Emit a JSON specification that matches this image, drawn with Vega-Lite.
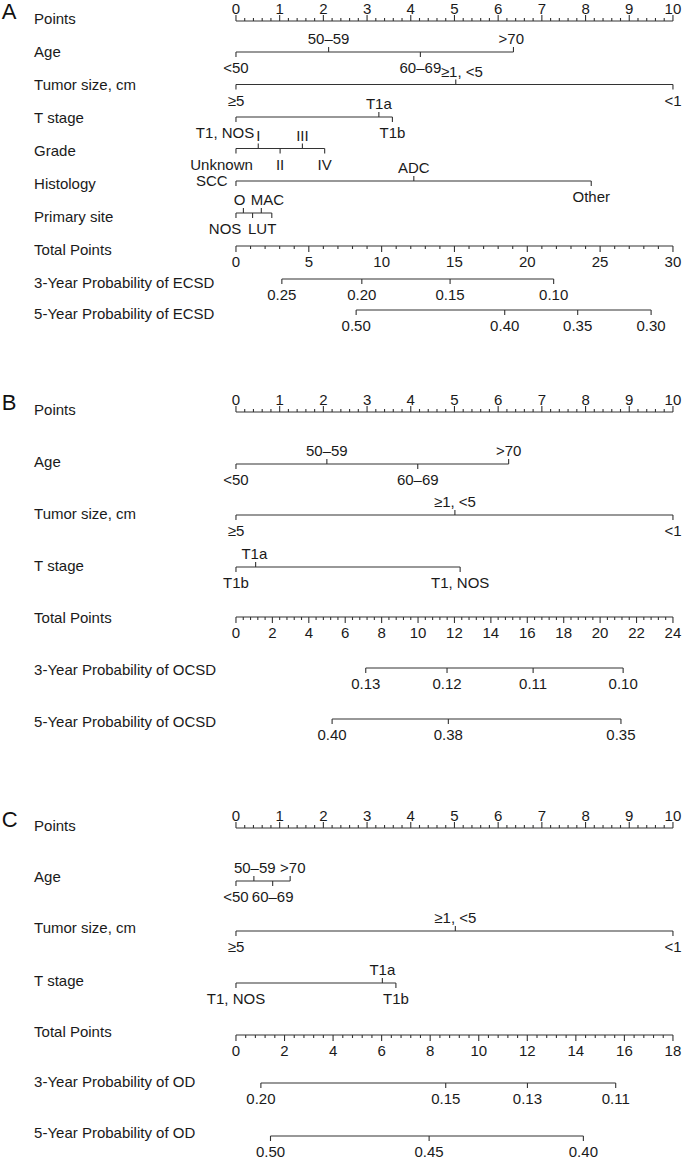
{
  "$schema": "https://vega.github.io/schema/vega-lite/v6.json",
  "width": 683,
  "height": 1163,
  "autosize": "none",
  "padding": 0,
  "background": "white",
  "config": {"view": {"stroke": null}, "text": {"font": "Liberation Sans"}},
  "datasets": {
    "rowlab": [
      {"t": "Points", "x": -4.62, "y": 19}, {"t": "Age", "x": -4.62, "y": 52}, {"t": "Tumor size, cm", "x": -4.62, "y": 85}, {"t": "T stage", "x": -4.62, "y": 118},
      {"t": "Grade", "x": -4.62, "y": 151}, {"t": "Histology", "x": -4.62, "y": 184}, {"t": "Primary site", "x": -4.62, "y": 217}, {"t": "Total Points", "x": -4.62, "y": 250},
      {"t": "3-Year Probability of ECSD", "x": -4.62, "y": 283}, {"t": "5-Year Probability of ECSD", "x": -4.62, "y": 314},
      {"t": "Points", "x": -4.62, "y": 410}, {"t": "Age", "x": -4.62, "y": 462}, {"t": "Tumor size, cm", "x": -4.62, "y": 514}, {"t": "T stage", "x": -4.62, "y": 566},
      {"t": "Total Points", "x": -4.62, "y": 618}, {"t": "3-Year Probability of OCSD", "x": -4.62, "y": 670}, {"t": "5-Year Probability of OCSD", "x": -4.62, "y": 722},
      {"t": "Points", "x": -4.62, "y": 826}, {"t": "Age", "x": -4.62, "y": 877}, {"t": "Tumor size, cm", "x": -4.62, "y": 928}, {"t": "T stage", "x": -4.62, "y": 981},
      {"t": "Total Points", "x": -4.62, "y": 1032}, {"t": "3-Year Probability of OD", "x": -4.62, "y": 1082}, {"t": "5-Year Probability of OD", "x": -4.62, "y": 1133}
    ],
    "letters": [{"t": "A", "x": -5.36, "y": 12}, {"t": "B", "x": -5.36, "y": 403}, {"t": "C", "x": -5.36, "y": 820}],
    "lines": [
      {"x": 0, "x2": 10, "y": 21}, {"x": 0, "x2": 6.35, "y": 52}, {"x": 0, "x2": 10, "y": 84.5}, {"x": 0, "x2": 3.58, "y": 117},
      {"x": 0, "x2": 2.03, "y": 148.5}, {"x": 0, "x2": 8.13, "y": 181}, {"x": 0, "x2": 0.82, "y": 213}, {"x": 0, "x2": 10, "y": 246},
      {"x": 1.05, "x2": 7.27, "y": 279}, {"x": 2.75, "x2": 9.5, "y": 310},
      {"x": 0, "x2": 10, "y": 412}, {"x": 0, "x2": 6.24, "y": 464}, {"x": 0, "x2": 10, "y": 515}, {"x": 0, "x2": 5.13, "y": 567},
      {"x": 0, "x2": 10, "y": 617}, {"x": 2.97, "x2": 8.86, "y": 668}, {"x": 2.2, "x2": 8.81, "y": 719},
      {"x": 0, "x2": 10, "y": 828}, {"x": 0, "x2": 1.24, "y": 881}, {"x": 0, "x2": 10, "y": 931}, {"x": 0, "x2": 3.66, "y": 983},
      {"x": 0, "x2": 10, "y": 1035}, {"x": 0.57, "x2": 8.69, "y": 1083}, {"x": 0.79, "x2": 7.95, "y": 1136}
    ],
    "ticks": [
      {"x":0,"y":21,"k":"uM"},{"x":0.2,"y":21,"k":"um"},{"x":0.4,"y":21,"k":"um"},{"x":0.6,"y":21,"k":"um"},{"x":0.8,"y":21,"k":"um"},
      {"x":1,"y":21,"k":"uM"},{"x":1.2,"y":21,"k":"um"},{"x":1.4,"y":21,"k":"um"},{"x":1.6,"y":21,"k":"um"},{"x":1.8,"y":21,"k":"um"},
      {"x":2,"y":21,"k":"uM"},{"x":2.2,"y":21,"k":"um"},{"x":2.4,"y":21,"k":"um"},{"x":2.6,"y":21,"k":"um"},{"x":2.8,"y":21,"k":"um"},
      {"x":3,"y":21,"k":"uM"},{"x":3.2,"y":21,"k":"um"},{"x":3.4,"y":21,"k":"um"},{"x":3.6,"y":21,"k":"um"},{"x":3.8,"y":21,"k":"um"},
      {"x":4,"y":21,"k":"uM"},{"x":4.2,"y":21,"k":"um"},{"x":4.4,"y":21,"k":"um"},{"x":4.6,"y":21,"k":"um"},{"x":4.8,"y":21,"k":"um"},
      {"x":5,"y":21,"k":"uM"},{"x":5.2,"y":21,"k":"um"},{"x":5.4,"y":21,"k":"um"},{"x":5.6,"y":21,"k":"um"},{"x":5.8,"y":21,"k":"um"},
      {"x":6,"y":21,"k":"uM"},{"x":6.2,"y":21,"k":"um"},{"x":6.4,"y":21,"k":"um"},{"x":6.6,"y":21,"k":"um"},{"x":6.8,"y":21,"k":"um"},
      {"x":7,"y":21,"k":"uM"},{"x":7.2,"y":21,"k":"um"},{"x":7.4,"y":21,"k":"um"},{"x":7.6,"y":21,"k":"um"},{"x":7.8,"y":21,"k":"um"},
      {"x":8,"y":21,"k":"uM"},{"x":8.2,"y":21,"k":"um"},{"x":8.4,"y":21,"k":"um"},{"x":8.6,"y":21,"k":"um"},{"x":8.8,"y":21,"k":"um"},
      {"x":9,"y":21,"k":"uM"},{"x":9.2,"y":21,"k":"um"},{"x":9.4,"y":21,"k":"um"},{"x":9.6,"y":21,"k":"um"},{"x":9.8,"y":21,"k":"um"},
      {"x":10,"y":21,"k":"uM"},

      {"x":0,"y":412,"k":"uM"},{"x":0.2,"y":412,"k":"um"},{"x":0.4,"y":412,"k":"um"},{"x":0.6,"y":412,"k":"um"},{"x":0.8,"y":412,"k":"um"},
      {"x":1,"y":412,"k":"uM"},{"x":1.2,"y":412,"k":"um"},{"x":1.4,"y":412,"k":"um"},{"x":1.6,"y":412,"k":"um"},{"x":1.8,"y":412,"k":"um"},
      {"x":2,"y":412,"k":"uM"},{"x":2.2,"y":412,"k":"um"},{"x":2.4,"y":412,"k":"um"},{"x":2.6,"y":412,"k":"um"},{"x":2.8,"y":412,"k":"um"},
      {"x":3,"y":412,"k":"uM"},{"x":3.2,"y":412,"k":"um"},{"x":3.4,"y":412,"k":"um"},{"x":3.6,"y":412,"k":"um"},{"x":3.8,"y":412,"k":"um"},
      {"x":4,"y":412,"k":"uM"},{"x":4.2,"y":412,"k":"um"},{"x":4.4,"y":412,"k":"um"},{"x":4.6,"y":412,"k":"um"},{"x":4.8,"y":412,"k":"um"},
      {"x":5,"y":412,"k":"uM"},{"x":5.2,"y":412,"k":"um"},{"x":5.4,"y":412,"k":"um"},{"x":5.6,"y":412,"k":"um"},{"x":5.8,"y":412,"k":"um"},
      {"x":6,"y":412,"k":"uM"},{"x":6.2,"y":412,"k":"um"},{"x":6.4,"y":412,"k":"um"},{"x":6.6,"y":412,"k":"um"},{"x":6.8,"y":412,"k":"um"},
      {"x":7,"y":412,"k":"uM"},{"x":7.2,"y":412,"k":"um"},{"x":7.4,"y":412,"k":"um"},{"x":7.6,"y":412,"k":"um"},{"x":7.8,"y":412,"k":"um"},
      {"x":8,"y":412,"k":"uM"},{"x":8.2,"y":412,"k":"um"},{"x":8.4,"y":412,"k":"um"},{"x":8.6,"y":412,"k":"um"},{"x":8.8,"y":412,"k":"um"},
      {"x":9,"y":412,"k":"uM"},{"x":9.2,"y":412,"k":"um"},{"x":9.4,"y":412,"k":"um"},{"x":9.6,"y":412,"k":"um"},{"x":9.8,"y":412,"k":"um"},
      {"x":10,"y":412,"k":"uM"},

      {"x":0,"y":828,"k":"uM"},{"x":0.2,"y":828,"k":"um"},{"x":0.4,"y":828,"k":"um"},{"x":0.6,"y":828,"k":"um"},{"x":0.8,"y":828,"k":"um"},
      {"x":1,"y":828,"k":"uM"},{"x":1.2,"y":828,"k":"um"},{"x":1.4,"y":828,"k":"um"},{"x":1.6,"y":828,"k":"um"},{"x":1.8,"y":828,"k":"um"},
      {"x":2,"y":828,"k":"uM"},{"x":2.2,"y":828,"k":"um"},{"x":2.4,"y":828,"k":"um"},{"x":2.6,"y":828,"k":"um"},{"x":2.8,"y":828,"k":"um"},
      {"x":3,"y":828,"k":"uM"},{"x":3.2,"y":828,"k":"um"},{"x":3.4,"y":828,"k":"um"},{"x":3.6,"y":828,"k":"um"},{"x":3.8,"y":828,"k":"um"},
      {"x":4,"y":828,"k":"uM"},{"x":4.2,"y":828,"k":"um"},{"x":4.4,"y":828,"k":"um"},{"x":4.6,"y":828,"k":"um"},{"x":4.8,"y":828,"k":"um"},
      {"x":5,"y":828,"k":"uM"},{"x":5.2,"y":828,"k":"um"},{"x":5.4,"y":828,"k":"um"},{"x":5.6,"y":828,"k":"um"},{"x":5.8,"y":828,"k":"um"},
      {"x":6,"y":828,"k":"uM"},{"x":6.2,"y":828,"k":"um"},{"x":6.4,"y":828,"k":"um"},{"x":6.6,"y":828,"k":"um"},{"x":6.8,"y":828,"k":"um"},
      {"x":7,"y":828,"k":"uM"},{"x":7.2,"y":828,"k":"um"},{"x":7.4,"y":828,"k":"um"},{"x":7.6,"y":828,"k":"um"},{"x":7.8,"y":828,"k":"um"},
      {"x":8,"y":828,"k":"uM"},{"x":8.2,"y":828,"k":"um"},{"x":8.4,"y":828,"k":"um"},{"x":8.6,"y":828,"k":"um"},{"x":8.8,"y":828,"k":"um"},
      {"x":9,"y":828,"k":"uM"},{"x":9.2,"y":828,"k":"um"},{"x":9.4,"y":828,"k":"um"},{"x":9.6,"y":828,"k":"um"},{"x":9.8,"y":828,"k":"um"},
      {"x":10,"y":828,"k":"uM"},

      {"x":0,"y":246,"k":"dM"},{"x":0.3333,"y":246,"k":"dm"},{"x":0.6667,"y":246,"k":"dm"},{"x":1,"y":246,"k":"dm"},{"x":1.3333,"y":246,"k":"dm"},
      {"x":1.6667,"y":246,"k":"dM"},{"x":2,"y":246,"k":"dm"},{"x":2.3333,"y":246,"k":"dm"},{"x":2.6667,"y":246,"k":"dm"},{"x":3,"y":246,"k":"dm"},
      {"x":3.3333,"y":246,"k":"dM"},{"x":3.6667,"y":246,"k":"dm"},{"x":4,"y":246,"k":"dm"},{"x":4.3333,"y":246,"k":"dm"},{"x":4.6667,"y":246,"k":"dm"},
      {"x":5,"y":246,"k":"dM"},{"x":5.3333,"y":246,"k":"dm"},{"x":5.6667,"y":246,"k":"dm"},{"x":6,"y":246,"k":"dm"},{"x":6.3333,"y":246,"k":"dm"},
      {"x":6.6667,"y":246,"k":"dM"},{"x":7,"y":246,"k":"dm"},{"x":7.3333,"y":246,"k":"dm"},{"x":7.6667,"y":246,"k":"dm"},{"x":8,"y":246,"k":"dm"},
      {"x":8.3333,"y":246,"k":"dM"},{"x":8.6667,"y":246,"k":"dm"},{"x":9,"y":246,"k":"dm"},{"x":9.3333,"y":246,"k":"dm"},{"x":9.6667,"y":246,"k":"dm"},
      {"x":10,"y":246,"k":"dM"},

      {"x":0,"y":617,"k":"dM"},{"x":0.1667,"y":617,"k":"dm"},{"x":0.3333,"y":617,"k":"dm"},{"x":0.5,"y":617,"k":"dm"},{"x":0.6667,"y":617,"k":"dm"},
      {"x":0.8333,"y":617,"k":"dM"},{"x":1,"y":617,"k":"dm"},{"x":1.1667,"y":617,"k":"dm"},{"x":1.3333,"y":617,"k":"dm"},{"x":1.5,"y":617,"k":"dm"},
      {"x":1.6667,"y":617,"k":"dM"},{"x":1.8333,"y":617,"k":"dm"},{"x":2,"y":617,"k":"dm"},{"x":2.1667,"y":617,"k":"dm"},{"x":2.3333,"y":617,"k":"dm"},
      {"x":2.5,"y":617,"k":"dM"},{"x":2.6667,"y":617,"k":"dm"},{"x":2.8333,"y":617,"k":"dm"},{"x":3,"y":617,"k":"dm"},{"x":3.1667,"y":617,"k":"dm"},
      {"x":3.3333,"y":617,"k":"dM"},{"x":3.5,"y":617,"k":"dm"},{"x":3.6667,"y":617,"k":"dm"},{"x":3.8333,"y":617,"k":"dm"},{"x":4,"y":617,"k":"dm"},
      {"x":4.1667,"y":617,"k":"dM"},{"x":4.3333,"y":617,"k":"dm"},{"x":4.5,"y":617,"k":"dm"},{"x":4.6667,"y":617,"k":"dm"},{"x":4.8333,"y":617,"k":"dm"},
      {"x":5,"y":617,"k":"dM"},{"x":5.1667,"y":617,"k":"dm"},{"x":5.3333,"y":617,"k":"dm"},{"x":5.5,"y":617,"k":"dm"},{"x":5.6667,"y":617,"k":"dm"},
      {"x":5.8333,"y":617,"k":"dM"},{"x":6,"y":617,"k":"dm"},{"x":6.1667,"y":617,"k":"dm"},{"x":6.3333,"y":617,"k":"dm"},{"x":6.5,"y":617,"k":"dm"},
      {"x":6.6667,"y":617,"k":"dM"},{"x":6.8333,"y":617,"k":"dm"},{"x":7,"y":617,"k":"dm"},{"x":7.1667,"y":617,"k":"dm"},{"x":7.3333,"y":617,"k":"dm"},
      {"x":7.5,"y":617,"k":"dM"},{"x":7.6667,"y":617,"k":"dm"},{"x":7.8333,"y":617,"k":"dm"},{"x":8,"y":617,"k":"dm"},{"x":8.1667,"y":617,"k":"dm"},
      {"x":8.3333,"y":617,"k":"dM"},{"x":8.5,"y":617,"k":"dm"},{"x":8.6667,"y":617,"k":"dm"},{"x":8.8333,"y":617,"k":"dm"},{"x":9,"y":617,"k":"dm"},
      {"x":9.1667,"y":617,"k":"dM"},{"x":9.3333,"y":617,"k":"dm"},{"x":9.5,"y":617,"k":"dm"},{"x":9.6667,"y":617,"k":"dm"},{"x":9.8333,"y":617,"k":"dm"},
      {"x":10,"y":617,"k":"dM"},

      {"x":0,"y":1035,"k":"dM"},{"x":0.2222,"y":1035,"k":"dm"},{"x":0.4444,"y":1035,"k":"dm"},{"x":0.6667,"y":1035,"k":"dm"},{"x":0.8889,"y":1035,"k":"dm"},
      {"x":1.1111,"y":1035,"k":"dM"},{"x":1.3333,"y":1035,"k":"dm"},{"x":1.5556,"y":1035,"k":"dm"},{"x":1.7778,"y":1035,"k":"dm"},{"x":2,"y":1035,"k":"dm"},
      {"x":2.2222,"y":1035,"k":"dM"},{"x":2.4444,"y":1035,"k":"dm"},{"x":2.6667,"y":1035,"k":"dm"},{"x":2.8889,"y":1035,"k":"dm"},{"x":3.1111,"y":1035,"k":"dm"},
      {"x":3.3333,"y":1035,"k":"dM"},{"x":3.5556,"y":1035,"k":"dm"},{"x":3.7778,"y":1035,"k":"dm"},{"x":4,"y":1035,"k":"dm"},{"x":4.2222,"y":1035,"k":"dm"},
      {"x":4.4444,"y":1035,"k":"dM"},{"x":4.6667,"y":1035,"k":"dm"},{"x":4.8889,"y":1035,"k":"dm"},{"x":5.1111,"y":1035,"k":"dm"},{"x":5.3333,"y":1035,"k":"dm"},
      {"x":5.5556,"y":1035,"k":"dM"},{"x":5.7778,"y":1035,"k":"dm"},{"x":6,"y":1035,"k":"dm"},{"x":6.2222,"y":1035,"k":"dm"},{"x":6.4444,"y":1035,"k":"dm"},
      {"x":6.6667,"y":1035,"k":"dM"},{"x":6.8889,"y":1035,"k":"dm"},{"x":7.1111,"y":1035,"k":"dm"},{"x":7.3333,"y":1035,"k":"dm"},{"x":7.5556,"y":1035,"k":"dm"},
      {"x":7.7778,"y":1035,"k":"dM"},{"x":8,"y":1035,"k":"dm"},{"x":8.2222,"y":1035,"k":"dm"},{"x":8.4444,"y":1035,"k":"dm"},{"x":8.6667,"y":1035,"k":"dm"},
      {"x":8.8889,"y":1035,"k":"dM"},{"x":9.1111,"y":1035,"k":"dm"},{"x":9.3333,"y":1035,"k":"dm"},{"x":9.5556,"y":1035,"k":"dm"},{"x":9.7778,"y":1035,"k":"dm"},
      {"x":10,"y":1035,"k":"dM"},

      {"x":0,"y":52,"k":"dc"},{"x":2.12,"y":52,"k":"uc"},{"x":4.22,"y":52,"k":"dc"},{"x":6.35,"y":52,"k":"uc"},
      {"x":0,"y":84.5,"k":"dc"},{"x":5.03,"y":84.5,"k":"uc"},{"x":10,"y":84.5,"k":"dc"},
      {"x":0,"y":117,"k":"dc"},{"x":3.27,"y":117,"k":"uc"},{"x":3.58,"y":117,"k":"dc"},
      {"x":0,"y":148.5,"k":"dc"},{"x":0.51,"y":148.5,"k":"uc"},{"x":1.01,"y":148.5,"k":"dc"},{"x":1.52,"y":148.5,"k":"uc"},{"x":2.03,"y":148.5,"k":"dc"},
      {"x":0,"y":181,"k":"dc"},{"x":4.07,"y":181,"k":"uc"},{"x":8.13,"y":181,"k":"dc"},
      {"x":0,"y":213,"k":"dc"},{"x":0.17,"y":213,"k":"uc"},{"x":0.38,"y":213,"k":"dc"},{"x":0.58,"y":213,"k":"uc"},{"x":0.82,"y":213,"k":"dc"},
      {"x":1.05,"y":279,"k":"dc"},{"x":2.88,"y":279,"k":"dc"},{"x":4.9,"y":279,"k":"dc"},{"x":7.27,"y":279,"k":"dc"},
      {"x":2.75,"y":310,"k":"dc"},{"x":6.15,"y":310,"k":"dc"},{"x":7.82,"y":310,"k":"dc"},{"x":9.5,"y":310,"k":"dc"},

      {"x":0,"y":464,"k":"dc"},{"x":2.08,"y":464,"k":"uc"},{"x":4.16,"y":464,"k":"dc"},{"x":6.24,"y":464,"k":"uc"},
      {"x":0,"y":515,"k":"dc"},{"x":5.01,"y":515,"k":"uc"},{"x":10,"y":515,"k":"dc"},
      {"x":0,"y":567,"k":"dc"},{"x":0.45,"y":567,"k":"uc"},{"x":5.13,"y":567,"k":"dc"},
      {"x":2.97,"y":668,"k":"dc"},{"x":4.83,"y":668,"k":"dc"},{"x":6.8,"y":668,"k":"dc"},{"x":8.86,"y":668,"k":"dc"},
      {"x":2.2,"y":719,"k":"dc"},{"x":4.86,"y":719,"k":"dc"},{"x":8.81,"y":719,"k":"dc"},

      {"x":0,"y":881,"k":"dc"},{"x":0.41,"y":881,"k":"uc"},{"x":0.84,"y":881,"k":"dc"},{"x":1.24,"y":881,"k":"uc"},
      {"x":0,"y":931,"k":"dc"},{"x":5.02,"y":931,"k":"uc"},{"x":10,"y":931,"k":"dc"},
      {"x":0,"y":983,"k":"dc"},{"x":3.35,"y":983,"k":"uc"},{"x":3.66,"y":983,"k":"dc"},
      {"x":0.57,"y":1083,"k":"dc"},{"x":4.8,"y":1083,"k":"dc"},{"x":6.67,"y":1083,"k":"dc"},{"x":8.69,"y":1083,"k":"dc"},
      {"x":0.79,"y":1136,"k":"dc"},{"x":4.42,"y":1136,"k":"dc"},{"x":7.95,"y":1136,"k":"dc"}
    ],
    "tlab": [
      {"t":"0","x":0,"y":21,"p":"n"},{"t":"1","x":1,"y":21,"p":"n"},{"t":"2","x":2,"y":21,"p":"n"},{"t":"3","x":3,"y":21,"p":"n"},
      {"t":"4","x":4,"y":21,"p":"n"},{"t":"5","x":5,"y":21,"p":"n"},{"t":"6","x":6,"y":21,"p":"n"},{"t":"7","x":7,"y":21,"p":"n"},
      {"t":"8","x":8,"y":21,"p":"n"},{"t":"9","x":9,"y":21,"p":"n"},{"t":"10","x":10,"y":21,"p":"n"},
      {"t":"<50","x":0,"y":52,"p":"b"},{"t":"50–59","x":2.12,"y":52,"p":"a"},{"t":"60–69","x":4.22,"y":52,"p":"b"},{"t":">70","x":6.3,"y":52,"p":"a"},
      {"t":"≥5","x":0,"y":84.5,"p":"b"},{"t":"≥1, <5","x":5.17,"y":84.5,"p":"a"},{"t":"<1","x":10,"y":84.5,"p":"b"},
      {"t":"T1, NOS","x":-0.25,"y":117,"p":"b"},{"t":"T1a","x":3.27,"y":117,"p":"a"},{"t":"T1b","x":3.58,"y":117,"p":"b"},
      {"t":"Unknown","x":-0.33,"y":148.5,"p":"b"},{"t":"I","x":0.51,"y":148.5,"p":"a"},{"t":"II","x":1.01,"y":148.5,"p":"b"},{"t":"III","x":1.52,"y":148.5,"p":"a"},{"t":"IV","x":2.03,"y":148.5,"p":"b"},
      {"t":"SCC","x":-0.1,"y":181,"p":"l"},{"t":"ADC","x":4.07,"y":181,"p":"a"},{"t":"Other","x":8.13,"y":181,"p":"b"},
      {"t":"O","x":0.08,"y":213,"p":"a"},{"t":"MAC","x":0.72,"y":213,"p":"a"},{"t":"NOS","x":-0.25,"y":213,"p":"b"},{"t":"LUT","x":0.6,"y":213,"p":"b"},
      {"t":"0","x":0,"y":246,"p":"b"},{"t":"5","x":1.6667,"y":246,"p":"b"},{"t":"10","x":3.3333,"y":246,"p":"b"},{"t":"15","x":5,"y":246,"p":"b"},
      {"t":"20","x":6.6667,"y":246,"p":"b"},{"t":"25","x":8.3333,"y":246,"p":"b"},{"t":"30","x":10,"y":246,"p":"b"},
      {"t":"0.25","x":1.05,"y":279,"p":"b"},{"t":"0.20","x":2.88,"y":279,"p":"b"},{"t":"0.15","x":4.9,"y":279,"p":"b"},{"t":"0.10","x":7.27,"y":279,"p":"b"},
      {"t":"0.50","x":2.75,"y":310,"p":"b"},{"t":"0.40","x":6.15,"y":310,"p":"b"},{"t":"0.35","x":7.82,"y":310,"p":"b"},{"t":"0.30","x":9.5,"y":310,"p":"b"},

      {"t":"0","x":0,"y":412,"p":"n"},{"t":"1","x":1,"y":412,"p":"n"},{"t":"2","x":2,"y":412,"p":"n"},{"t":"3","x":3,"y":412,"p":"n"},
      {"t":"4","x":4,"y":412,"p":"n"},{"t":"5","x":5,"y":412,"p":"n"},{"t":"6","x":6,"y":412,"p":"n"},{"t":"7","x":7,"y":412,"p":"n"},
      {"t":"8","x":8,"y":412,"p":"n"},{"t":"9","x":9,"y":412,"p":"n"},{"t":"10","x":10,"y":412,"p":"n"},
      {"t":"<50","x":0,"y":464,"p":"b"},{"t":"50–59","x":2.08,"y":464,"p":"a"},{"t":"60–69","x":4.16,"y":464,"p":"b"},{"t":">70","x":6.24,"y":464,"p":"a"},
      {"t":"≥5","x":0,"y":515,"p":"b"},{"t":"≥1, <5","x":5.01,"y":515,"p":"a"},{"t":"<1","x":10,"y":515,"p":"b"},
      {"t":"T1b","x":0,"y":567,"p":"b"},{"t":"T1a","x":0.42,"y":567,"p":"a"},{"t":"T1, NOS","x":5.13,"y":567,"p":"b"},
      {"t":"0","x":0,"y":617,"p":"b"},{"t":"2","x":0.8333,"y":617,"p":"b"},{"t":"4","x":1.6667,"y":617,"p":"b"},{"t":"6","x":2.5,"y":617,"p":"b"},
      {"t":"8","x":3.3333,"y":617,"p":"b"},{"t":"10","x":4.1667,"y":617,"p":"b"},{"t":"12","x":5,"y":617,"p":"b"},{"t":"14","x":5.8333,"y":617,"p":"b"},
      {"t":"16","x":6.6667,"y":617,"p":"b"},{"t":"18","x":7.5,"y":617,"p":"b"},{"t":"20","x":8.3333,"y":617,"p":"b"},{"t":"22","x":9.1667,"y":617,"p":"b"},
      {"t":"24","x":10,"y":617,"p":"b"},
      {"t":"0.13","x":2.97,"y":668,"p":"b"},{"t":"0.12","x":4.83,"y":668,"p":"b"},{"t":"0.11","x":6.8,"y":668,"p":"b"},{"t":"0.10","x":8.86,"y":668,"p":"b"},
      {"t":"0.40","x":2.2,"y":719,"p":"b"},{"t":"0.38","x":4.86,"y":719,"p":"b"},{"t":"0.35","x":8.81,"y":719,"p":"b"},

      {"t":"0","x":0,"y":828,"p":"n"},{"t":"1","x":1,"y":828,"p":"n"},{"t":"2","x":2,"y":828,"p":"n"},{"t":"3","x":3,"y":828,"p":"n"},
      {"t":"4","x":4,"y":828,"p":"n"},{"t":"5","x":5,"y":828,"p":"n"},{"t":"6","x":6,"y":828,"p":"n"},{"t":"7","x":7,"y":828,"p":"n"},
      {"t":"8","x":8,"y":828,"p":"n"},{"t":"9","x":9,"y":828,"p":"n"},{"t":"10","x":10,"y":828,"p":"n"},
      {"t":"<50","x":0,"y":881,"p":"b"},{"t":"50–59","x":0.43,"y":881,"p":"a"},{"t":"60–69","x":0.84,"y":881,"p":"b"},{"t":">70","x":1.3,"y":881,"p":"a"},
      {"t":"≥5","x":0,"y":931,"p":"b"},{"t":"≥1, <5","x":5.02,"y":931,"p":"a"},{"t":"<1","x":10,"y":931,"p":"b"},
      {"t":"T1, NOS","x":0,"y":983,"p":"b"},{"t":"T1a","x":3.35,"y":983,"p":"a"},{"t":"T1b","x":3.66,"y":983,"p":"b"},
      {"t":"0","x":0,"y":1035,"p":"b"},{"t":"2","x":1.1111,"y":1035,"p":"b"},{"t":"4","x":2.2222,"y":1035,"p":"b"},{"t":"6","x":3.3333,"y":1035,"p":"b"},
      {"t":"8","x":4.4444,"y":1035,"p":"b"},{"t":"10","x":5.5556,"y":1035,"p":"b"},{"t":"12","x":6.6667,"y":1035,"p":"b"},{"t":"14","x":7.7778,"y":1035,"p":"b"},
      {"t":"16","x":8.8889,"y":1035,"p":"b"},{"t":"18","x":10,"y":1035,"p":"b"},
      {"t":"0.20","x":0.57,"y":1083,"p":"b"},{"t":"0.15","x":4.8,"y":1083,"p":"b"},{"t":"0.13","x":6.67,"y":1083,"p":"b"},{"t":"0.11","x":8.69,"y":1083,"p":"b"},
      {"t":"0.50","x":0.79,"y":1136,"p":"b"},{"t":"0.45","x":4.42,"y":1136,"p":"b"},{"t":"0.40","x":7.95,"y":1136,"p":"b"}
    ]
  },
  "encoding": {
    "x": {"field": "x", "type": "quantitative", "scale": {"domain": [-5.4, 10.23], "nice": false, "zero": false}, "axis": null},
    "y": {"field": "y", "type": "quantitative", "scale": {"domain": [0, 1163], "reverse": true, "nice": false, "zero": false}, "axis": null}
  },
  "layer": [
    {
      "data": {"name": "lines"},
      "mark": {"type": "rule", "stroke": "#333333", "strokeWidth": 1.1},
      "encoding": {"x2": {"field": "x2"}}
    },
    {
      "data": {"name": "ticks"},
      "transform": [{"filter": {"field": "k", "equal": "uM"}}],
      "mark": {"type": "rule", "stroke": "#333333", "strokeWidth": 1.1, "y2Offset": -6},
      "encoding": {"y2": {"field": "y"}}
    },
    {
      "data": {"name": "ticks"},
      "transform": [{"filter": {"field": "k", "equal": "um"}}],
      "mark": {"type": "rule", "stroke": "#333333", "strokeWidth": 1.1, "y2Offset": -3},
      "encoding": {"y2": {"field": "y"}}
    },
    {
      "data": {"name": "ticks"},
      "transform": [{"filter": {"field": "k", "equal": "dM"}}],
      "mark": {"type": "rule", "stroke": "#333333", "strokeWidth": 1.1, "y2Offset": 6},
      "encoding": {"y2": {"field": "y"}}
    },
    {
      "data": {"name": "ticks"},
      "transform": [{"filter": {"field": "k", "equal": "dm"}}],
      "mark": {"type": "rule", "stroke": "#333333", "strokeWidth": 1.1, "y2Offset": 3},
      "encoding": {"y2": {"field": "y"}}
    },
    {
      "data": {"name": "ticks"},
      "transform": [{"filter": {"field": "k", "equal": "uc"}}],
      "mark": {"type": "rule", "stroke": "#333333", "strokeWidth": 1.1, "y2Offset": -5},
      "encoding": {"y2": {"field": "y"}}
    },
    {
      "data": {"name": "ticks"},
      "transform": [{"filter": {"field": "k", "equal": "dc"}}],
      "mark": {"type": "rule", "stroke": "#333333", "strokeWidth": 1.1, "y2Offset": 5},
      "encoding": {"y2": {"field": "y"}}
    },
    {
      "data": {"name": "rowlab"},
      "mark": {"type": "text", "align": "left", "baseline": "middle", "fontSize": 15, "color": "#1a1a1a"},
      "encoding": {"text": {"field": "t"}}
    },
    {
      "data": {"name": "letters"},
      "mark": {"type": "text", "align": "left", "baseline": "middle", "fontSize": 22, "color": "#111111"},
      "encoding": {"text": {"field": "t"}}
    },
    {
      "data": {"name": "tlab"},
      "transform": [{"filter": {"field": "p", "equal": "n"}}],
      "mark": {"type": "text", "align": "center", "baseline": "middle", "fontSize": 15, "dy": -12.5, "color": "#1a1a1a"},
      "encoding": {"text": {"field": "t"}}
    },
    {
      "data": {"name": "tlab"},
      "transform": [{"filter": {"field": "p", "equal": "a"}}],
      "mark": {"type": "text", "align": "center", "baseline": "middle", "fontSize": 15, "dy": -13, "color": "#1a1a1a"},
      "encoding": {"text": {"field": "t"}}
    },
    {
      "data": {"name": "tlab"},
      "transform": [{"filter": {"field": "p", "equal": "b"}}],
      "mark": {"type": "text", "align": "center", "baseline": "middle", "fontSize": 15, "dy": 16, "color": "#1a1a1a"},
      "encoding": {"text": {"field": "t"}}
    },
    {
      "data": {"name": "tlab"},
      "transform": [{"filter": {"field": "p", "equal": "l"}}],
      "mark": {"type": "text", "align": "right", "baseline": "middle", "fontSize": 15, "dx": -4, "color": "#1a1a1a"},
      "encoding": {"text": {"field": "t"}}
    }
  ]
}
